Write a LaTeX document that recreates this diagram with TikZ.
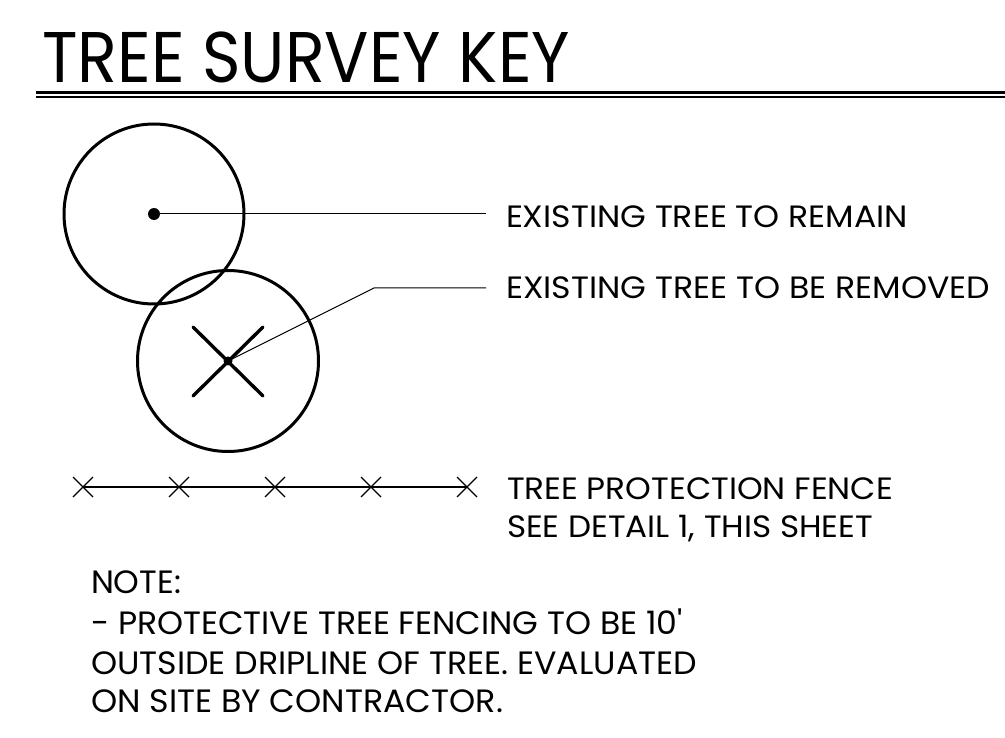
\documentclass[tikz,border=0pt]{standalone}
\usepackage{fontspec}
\newfontfamily\pop{Poppins}
\usepackage{graphicx}
\newlength\fitw
\newcommand{\fitline}[3]{%
  \settoheight\fitw{\pop\fontsize{100pt}{100pt}\selectfont H}%
  \pgfmathsetmacro\capr{\fitw/100}%
  \pgfmathsetmacro\fs{#1/\capr}%
  \settowidth\fitw{\pop\fontsize{\fs pt}{\fs pt}\selectfont #3}%
  \pgfmathsetmacro\sx{#2/\fitw}%
  \scalebox{\sx}[1]{\pop\fontsize{\fs pt}{\fs pt}\selectfont #3}}
\tikzset{
  lbl/.style={anchor=base west,inner sep=0pt,outer sep=0pt},
  tree/.style={draw=black,line width=3pt},
  leader/.style={draw=black,line width=1pt},
  xmark/.style={draw=black,line width=3.4pt,line cap=round},
  fence/.style={draw=black,line width=1.3pt},
}
\begin{document}
\begin{tikzpicture}[x=1pt,y=-1pt]
\useasboundingbox (0,0) rectangle (1005,738);
% title
\node[lbl] (title) at (42,83) {\fitline{50}{528}{TREE SURVEY KEY}};
\coordinate (ulA) at (36,92.5);
\coordinate (ulB) at (1005,92.5);
\coordinate (ulC) at (36,97.5);
\coordinate (ulD) at (1005,97.5);
\draw[line width=2.4pt] (ulA) -- (ulB);
\draw[line width=2pt] (ulC) -- (ulD);
% tree to remain
\node[tree,circle,minimum size=180pt,inner sep=0pt] (t1) at (154,214) {};
\node[circle,fill=black,minimum size=12pt,inner sep=0pt] (d1) at (154,214) {};
\coordinate (e1) at (486,214);
\draw[leader] (d1.center) -- (e1);
\node[lbl] (l1) at (506,228) {\fitline{21.5}{402}{EXISTING TREE TO REMAIN}};
% tree to be removed
\node[tree,circle,minimum size=181pt,inner sep=0pt] (t2) at (228,361) {};
\coordinate (xa) at (193,327);
\coordinate (xb) at (263,396);
\coordinate (xc) at (193,396);
\coordinate (xd) at (263,327);
\draw[xmark] (xa) -- (xb);
\draw[xmark] (xc) -- (xd);
\node[circle,fill=black,minimum size=9pt,inner sep=0pt] (d2) at (228,361) {};
\coordinate (k2) at (374,288);
\coordinate (e2) at (486,288);
\draw[leader] (d2.center) -- (k2) -- (e2);
\node[lbl] (l2) at (506,299) {\fitline{21.5}{484}{EXISTING TREE TO BE REMOVED}};
% fence
\foreach \i/\xx in {1/83,2/179,3/275,4/371,5/467}{
  \coordinate (f\i) at (\xx,487);
  \draw[fence] (\xx-10,477) -- (\xx+10,497) (\xx-10,497) -- (\xx+10,477);
}
\draw[fence] (f1) -- (f5);
\node[lbl] (l3) at (507,499) {\fitline{21.5}{386}{TREE PROTECTION FENCE}};
\node[lbl] (l4) at (507,537) {\fitline{21.5}{366}{SEE DETAIL 1, THIS SHEET}};
% notes
\node[lbl] (n1) at (91,593) {\fitline{22.5}{90}{NOTE:}};
\node[lbl] (n2) at (91,634) {\fitline{22.5}{592}{- PROTECTIVE TREE FENCING TO BE 10'}};
\node[lbl] (n3) at (91,674) {\fitline{22.5}{606}{OUTSIDE DRIPLINE OF TREE. EVALUATED}};
\node[lbl] (n4) at (91,712) {\fitline{22.5}{412}{ON SITE BY CONTRACTOR.}};
\end{tikzpicture}
\end{document}
